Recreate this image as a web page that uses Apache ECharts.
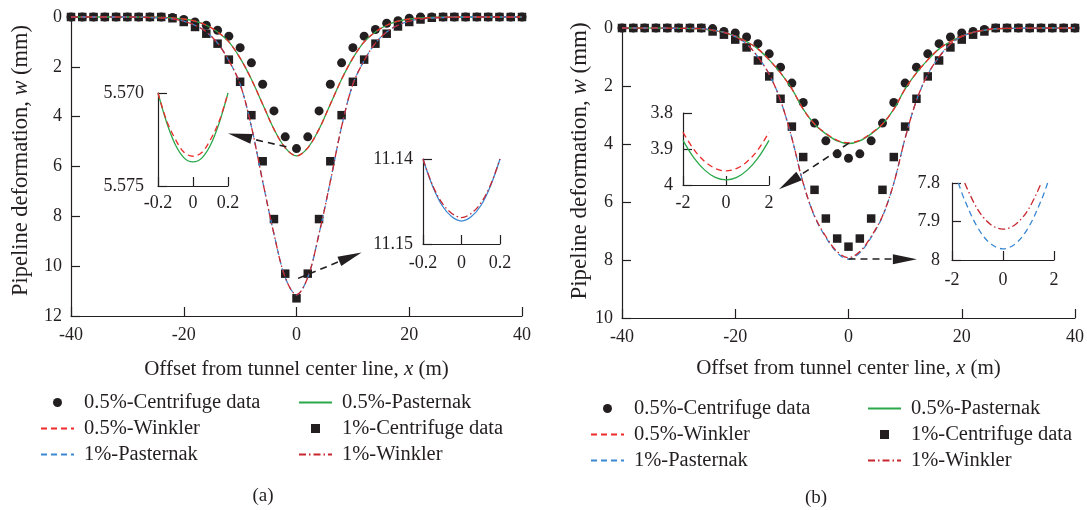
<!DOCTYPE html>
<html>
<head>
<meta charset="utf-8">
<script src="https://cdn.jsdelivr.net/npm/echarts@6/dist/echarts.min.js"></script>
<style>
  html, body { margin: 0; padding: 0; background: #fff; }
  #chart { width: 1087px; height: 510px; }
</style>
</head>
<body>
<div id="chart"></div>
<script>
// offsets (m) where the model curves are sampled
const xCurve = [-40, -30, -26, -24, -22, -20, -18, -16, -14, -12, -10, -8, -6, -4, -2, 0,
                2, 4, 6, 8, 10, 12, 14, 16, 18, 20, 22, 24, 26, 30, 40];
// offsets (m) of the centrifuge measurements
const xData = [-40, -38, -36, -34, -32, -30, -28, -26, -24, -22, -20, -18, -16, -14, -12, -10, -8, -6, -4, -2, 0,
               2, 4, 6, 8, 10, 12, 14, 16, 18, 20, 22, 24, 26, 28, 30, 32, 34, 36, 38, 40];

// (a) curves, w (mm)
const aPast05 = [0, 0, 0.01, 0.02, 0.04, 0.08, 0.17, 0.33, 0.6, 1.0, 1.65, 2.5, 3.5, 4.5, 5.25, 5.574,
                 5.25, 4.5, 3.5, 2.5, 1.65, 1.0, 0.6, 0.33, 0.17, 0.08, 0.04, 0.02, 0.01, 0, 0];
const aWink05 = [0, 0, 0.01, 0.02, 0.04, 0.08, 0.17, 0.33, 0.6, 1.0, 1.65, 2.5, 3.5, 4.5, 5.25, 5.573,
                 5.25, 4.5, 3.5, 2.5, 1.65, 1.0, 0.6, 0.33, 0.17, 0.08, 0.04, 0.02, 0.01, 0, 0];
const aPast1 = [0, 0, 0.02, 0.04, 0.08, 0.17, 0.33, 0.6, 1.05, 1.75, 2.7, 4.4, 6.6, 8.7, 10.45, 11.147,
                10.45, 8.7, 6.6, 4.4, 2.7, 1.75, 1.05, 0.6, 0.33, 0.17, 0.08, 0.04, 0.02, 0, 0];
const aWink1 = [0, 0, 0.02, 0.04, 0.08, 0.17, 0.33, 0.6, 1.05, 1.75, 2.7, 4.4, 6.6, 8.7, 10.45, 11.147,
                10.45, 8.7, 6.6, 4.4, 2.7, 1.75, 1.05, 0.6, 0.33, 0.17, 0.08, 0.04, 0.02, 0, 0];
// (a) centrifuge data
const aCent05 = [0, 0, 0, 0, 0, 0, 0, 0, 0, 0.02, 0.1, 0.2, 0.33, 0.53, 0.77, 1.23, 1.84, 2.7, 3.77, 4.81, 5.28,
                 4.81, 3.77, 2.7, 1.84, 1.23, 0.77, 0.5, 0.25, 0.15, 0.05, 0, 0, 0, 0, 0, 0, 0, 0, 0, 0];
const aCent1 = [0, 0, 0, 0, 0, 0, 0, 0, 0, 0.05, 0.2, 0.4, 0.67, 1.07, 1.71, 2.6, 3.94, 5.79, 8.11, 10.3, 11.29,
                10.3, 8.11, 5.79, 3.94, 2.6, 1.71, 1.07, 0.67, 0.38, 0.2, 0.1, 0.03, 0, 0, 0, 0, 0, 0, 0, 0];

// (b) curves, w (mm)
const bPast05 = [0, 0.01, 0.03, 0.08, 0.15, 0.28, 0.47, 0.72, 1.1, 1.55, 2.1, 2.8, 3.32, 3.65, 3.89, 3.986,
                 3.89, 3.65, 3.32, 2.8, 2.1, 1.55, 1.1, 0.72, 0.47, 0.28, 0.15, 0.08, 0.03, 0.01, 0];
const bWink05 = [0, 0.01, 0.03, 0.08, 0.15, 0.28, 0.47, 0.72, 1.1, 1.55, 2.1, 2.8, 3.31, 3.63, 3.87, 3.961,
                 3.87, 3.63, 3.31, 2.8, 2.1, 1.55, 1.1, 0.72, 0.47, 0.28, 0.15, 0.08, 0.03, 0.01, 0];
const bPast1 = [0, 0.01, 0.02, 0.07, 0.15, 0.3, 0.55, 1.0, 1.6, 2.5, 3.8, 5.35, 6.5, 7.22, 7.75, 7.971,
                7.75, 7.22, 6.5, 5.35, 3.8, 2.5, 1.6, 1.0, 0.55, 0.3, 0.15, 0.07, 0.02, 0.01, 0];
const bWink1 = [0, 0.01, 0.02, 0.07, 0.15, 0.3, 0.55, 1.0, 1.6, 2.5, 3.8, 5.35, 6.48, 7.19, 7.71, 7.92,
                7.71, 7.19, 6.48, 5.35, 3.8, 2.5, 1.6, 1.0, 0.55, 0.3, 0.15, 0.07, 0.02, 0.01, 0];
// (b) centrifuge data
const bCent05 = [0, 0, 0, 0, 0, 0, 0, 0, 0.02, 0.12, 0.17, 0.31, 0.54, 0.89, 1.35, 1.9, 2.57, 3.28, 3.89, 4.34, 4.49,
                 4.34, 3.89, 3.28, 2.57, 1.9, 1.35, 0.89, 0.54, 0.31, 0.17, 0.12, 0.05, 0, 0, 0, 0, 0, 0, 0, 0];
const bCent1 = [0, 0, 0, 0, 0, 0, 0, 0, 0.12, 0.23, 0.4, 0.67, 1.12, 1.67, 2.44, 3.4, 4.45, 5.58, 6.57, 7.26, 7.54,
                7.26, 6.57, 5.58, 4.45, 3.4, 2.44, 1.67, 1.12, 0.67, 0.4, 0.23, 0.12, 0, 0, 0, 0, 0, 0, 0, 0];

// zoomed insets
const aInX = [-0.2, -0.15, -0.1, -0.05, 0, 0.05, 0.1, 0.15, 0.2];
const aIn1Past05 = [5.570, 5.5716, 5.5728, 5.5735, 5.5737, 5.5735, 5.5728, 5.5716, 5.570];
const aIn1Wink05 = [5.570, 5.5715, 5.5725, 5.5732, 5.5734, 5.5732, 5.5725, 5.5715, 5.570];
const aIn2Past1 = [11.14, 11.1432, 11.1455, 11.1468, 11.1473, 11.1468, 11.1455, 11.1432, 11.14];
const aIn2Wink1 = [11.14, 11.1431, 11.1452, 11.1464, 11.1469, 11.1464, 11.1452, 11.1431, 11.14];
const bInX = [-2, -1.5, -1, -0.5, 0, 0.5, 1, 1.5, 2];
const bIn1Past05 = [3.876, 3.924, 3.958, 3.979, 3.986, 3.979, 3.958, 3.924, 3.876];
const bIn1Wink05 = [3.854, 3.901, 3.934, 3.954, 3.961, 3.954, 3.934, 3.901, 3.854];
const bIn2PastX = [-1.75, -1.5, -1, -0.5, 0, 0.5, 1, 1.5, 1.75];
const bIn2Past1 = [7.8, 7.845, 7.915, 7.957, 7.971, 7.957, 7.915, 7.845, 7.8];
const bIn2WinkX = [-1.5, -1, -0.5, 0, 0.5, 1, 1.5];
const bIn2Wink1 = [7.8, 7.868, 7.907, 7.92, 7.907, 7.868, 7.8];

const ink = '#231f20';
const font = 'Liberation Serif';
const green = '#2aa84a', red = '#ee2a2a', blue = '#3a88d2', darkRed = '#c8262e';

const zip = (xs, ys) => xs.map((x, i) => [x, ys[i]]);

const axisBase = (grid, min, max, interval, extra) => Object.assign({
  gridIndex: grid, type: 'value', min: min, max: max, interval: interval,
  axisLine: { show: true, onZero: false, lineStyle: { color: ink, width: 1.2 } },
  axisTick: { show: true, inside: true, length: 9, lineStyle: { color: ink, width: 1.2 } },
  axisLabel: { color: ink, fontFamily: font, fontSize: 18, margin: 10 },
  splitLine: { show: false }
}, extra);

const nameStyle = (size, pad) => ({
  color: ink, fontFamily: font, fontSize: size, padding: pad,
  rich: { i: { fontStyle: 'italic', color: ink, fontFamily: font, fontSize: size } }
});

const lineSeries = (name, xi, yi, data, color, type) => ({
  name: name, type: 'line', xAxisIndex: xi, yAxisIndex: yi,
  data: data, smooth: 0.35, symbol: 'none', clip: false, animation: false,
  lineStyle: { color: color, width: 1.3, type: type }, itemStyle: { color: color }
});
const dotSeries = (name, xi, yi, data, symbol, size) => ({
  name: name, type: 'scatter', xAxisIndex: xi, yAxisIndex: yi, data: data,
  symbol: symbol, symbolSize: size, clip: false, animation: false,
  itemStyle: { color: ink, opacity: 1 }
});
const arrows = (list) => ({
  silent: true, animation: false, symbol: ['none', 'triangle'],
  label: { show: false },
  lineStyle: { color: ink, width: 1.6, type: [7, 5] },
  data: list.map(a => [{ coord: a[0], symbol: 'none' }, { coord: a[1], symbol: 'triangle', symbolSize: [10, 24] }])
});

// legend entries: lines hide the marker dot, the square marker keeps its aspect
const legendItem = (name) => {
  if (name.indexOf('Centrifuge') >= 0) {
    return name.indexOf('1%') === 0
      ? { name: name, icon: 'path://M0,0L1,0L1,1L0,1Z' }
      : { name: name, icon: 'circle' };
  }
  return { name: name, itemStyle: { opacity: 0, borderWidth: 0 } };
};
const legendBase = (left, top, names) => ({
  left: left, top: top, orient: 'vertical', padding: 0, itemGap: 5, itemWidth: 33, itemHeight: 9,
  selectedMode: false, symbolKeepAspect: true, data: names.map(legendItem),
  textStyle: { color: ink, fontFamily: font, fontSize: 20.5, lineHeight: 20, padding: [0, 0, 0, 5] }
});

const chart = echarts.init(document.getElementById('chart'), null, { renderer: 'canvas' });
chart.setOption({
  animation: false,
  grid: [
    { left: 71, top: 17, width: 451, height: 299 },
    { left: 158, top: 93, width: 70, height: 93 },
    { left: 423, top: 159, width: 77, height: 85 },
    { left: 622, top: 28, width: 455, height: 290 },
    { left: 683, top: 113, width: 86, height: 72 },
    { left: 952, top: 183, width: 102, height: 77 }
  ],
  xAxis: [
    axisBase(0, -40, 40, 20, {
      name: 'Offset from tunnel center line, {i|x} (m)', nameLocation: 'middle', nameGap: 43,
      nameTextStyle: nameStyle(21, 0)
    }),
    axisBase(1, -0.2, 0.2, 0.2, { axisLabel: { color: ink, fontFamily: font, fontSize: 18, margin: 8 } }),
    axisBase(2, -0.2, 0.2, 0.2, { axisLabel: { color: ink, fontFamily: font, fontSize: 18, margin: 10 } }),
    axisBase(3, -40, 40, 20, {
      name: 'Offset from tunnel center line, {i|x} (m)', nameLocation: 'middle', nameGap: 40,
      nameTextStyle: nameStyle(21, 0)
    }),
    axisBase(4, -2, 2, 2, { axisLabel: { color: ink, fontFamily: font, fontSize: 18, margin: 9 } }),
    axisBase(5, -2, 2, 2, { axisLabel: { color: ink, fontFamily: font, fontSize: 18, margin: 11 } })
  ],
  yAxis: [
    axisBase(0, 0, 12, 2, {
      inverse: true, name: 'Pipeline deformation, {i|w} (mm)', nameLocation: 'middle', nameGap: 38,
      nameTextStyle: nameStyle(22.5, [0, 0, 0, 12]),
      axisLabel: { color: ink, fontFamily: font, fontSize: 18, margin: 9 }
    }),
    axisBase(1, 5.570, 5.575, 0.005, {
      inverse: true,
      axisLabel: { color: ink, fontFamily: font, fontSize: 18, margin: 14, formatter: v => v.toFixed(3) }
    }),
    axisBase(2, 11.14, 11.15, 0.01, {
      inverse: true,
      axisLabel: { color: ink, fontFamily: font, fontSize: 18, margin: 10, formatter: v => v.toFixed(2) }
    }),
    axisBase(3, 0, 10, 2, {
      inverse: true, name: 'Pipeline deformation, {i|w} (mm)', nameLocation: 'middle', nameGap: 30,
      nameTextStyle: nameStyle(23, [0, 0, 0, 24]),
      axisLabel: { color: ink, fontFamily: font, fontSize: 18, margin: 9 }
    }),
    axisBase(4, 3.8, 4, 0.1, {
      inverse: true, axisLabel: { color: ink, fontFamily: font, fontSize: 18, margin: 10 }
    }),
    axisBase(5, 7.8, 8, 0.1, {
      inverse: true, axisLabel: { color: ink, fontFamily: font, fontSize: 18, margin: 12 }
    })
  ],
  legend: [
    legendBase(40, 392, ['0.5%-Centrifuge data', '0.5%-Winkler', '1%-Pasternak']),
    legendBase(298, 392, ['0.5%-Pasternak', '1%-Centrifuge data', '1%-Winkler']),
    legendBase(590, 398, ['0.5%-Centrifuge data', '0.5%-Winkler', '1%-Pasternak']),
    legendBase(867, 398, ['0.5%-Pasternak', '1%-Centrifuge data', '1%-Winkler'])
  ],
  graphic: [
    { type: 'text', x: 263, y: 496, style: { text: '(a)', fill: ink, font: '19px "Liberation Serif"', textAlign: 'center', textVerticalAlign: 'middle' } },
    { type: 'text', x: 816, y: 498, style: { text: '(b)', fill: ink, font: '19px "Liberation Serif"', textAlign: 'center', textVerticalAlign: 'middle' } }
  ],
  series: [
    // panel (a)
    lineSeries('0.5%-Pasternak', 0, 0, zip(xCurve, aPast05), green, 'solid'),
    lineSeries('0.5%-Winkler', 0, 0, zip(xCurve, aWink05), red, [6, 4]),
    lineSeries('1%-Pasternak', 0, 0, zip(xCurve, aPast1), blue, [6, 4]),
    Object.assign(lineSeries('1%-Winkler', 0, 0, zip(xCurve, aWink1), darkRed, [7, 3, 1.5, 3]), {
      markLine: arrows([[[-1.8, 5.21], [-10.06, 4.78]], [[0.28, 10.49], [9.57, 9.63]]])
    }),
    dotSeries('0.5%-Centrifuge data', 0, 0, zip(xData, aCent05), 'circle', 9),
    dotSeries('1%-Centrifuge data', 0, 0, zip(xData, aCent1), 'rect', 8.5),
    lineSeries('a-in1-p', 1, 1, zip(aInX, aIn1Past05), green, 'solid'),
    lineSeries('a-in1-w', 1, 1, zip(aInX, aIn1Wink05), red, [6, 4]),
    lineSeries('a-in2-p', 2, 2, zip(aInX, aIn2Past1), blue, 'solid'),
    lineSeries('a-in2-w', 2, 2, zip(aInX, aIn2Wink1), darkRed, [7, 3, 1.5, 3]),
    // panel (b)
    lineSeries('0.5%-Pasternak', 3, 3, zip(xCurve, bPast05), green, 'solid'),
    lineSeries('0.5%-Winkler', 3, 3, zip(xCurve, bWink05), red, [6, 4]),
    lineSeries('1%-Pasternak', 3, 3, zip(xCurve, bPast1), blue, [6, 4]),
    Object.assign(lineSeries('1%-Winkler', 3, 3, zip(xCurve, bWink1), darkRed, [7, 3, 1.5, 3]), {
      markLine: arrows([[[0.05, 3.97], [-10.5, 5.33]], [[0, 7.97], [9.96, 7.97]]])
    }),
    dotSeries('0.5%-Centrifuge data', 3, 3, zip(xData, bCent05), 'circle', 9),
    dotSeries('1%-Centrifuge data', 3, 3, zip(xData, bCent1), 'rect', 8.5),
    lineSeries('b-in1-p', 4, 4, zip(bInX, bIn1Past05), green, 'solid'),
    lineSeries('b-in1-w', 4, 4, zip(bInX, bIn1Wink05), red, [6, 4]),
    lineSeries('b-in2-p', 5, 5, zip(bIn2PastX, bIn2Past1), blue, [6, 4]),
    lineSeries('b-in2-w', 5, 5, zip(bIn2WinkX, bIn2Wink1), darkRed, [7, 3, 1.5, 3])
  ]
});
</script>
</body>
</html>
